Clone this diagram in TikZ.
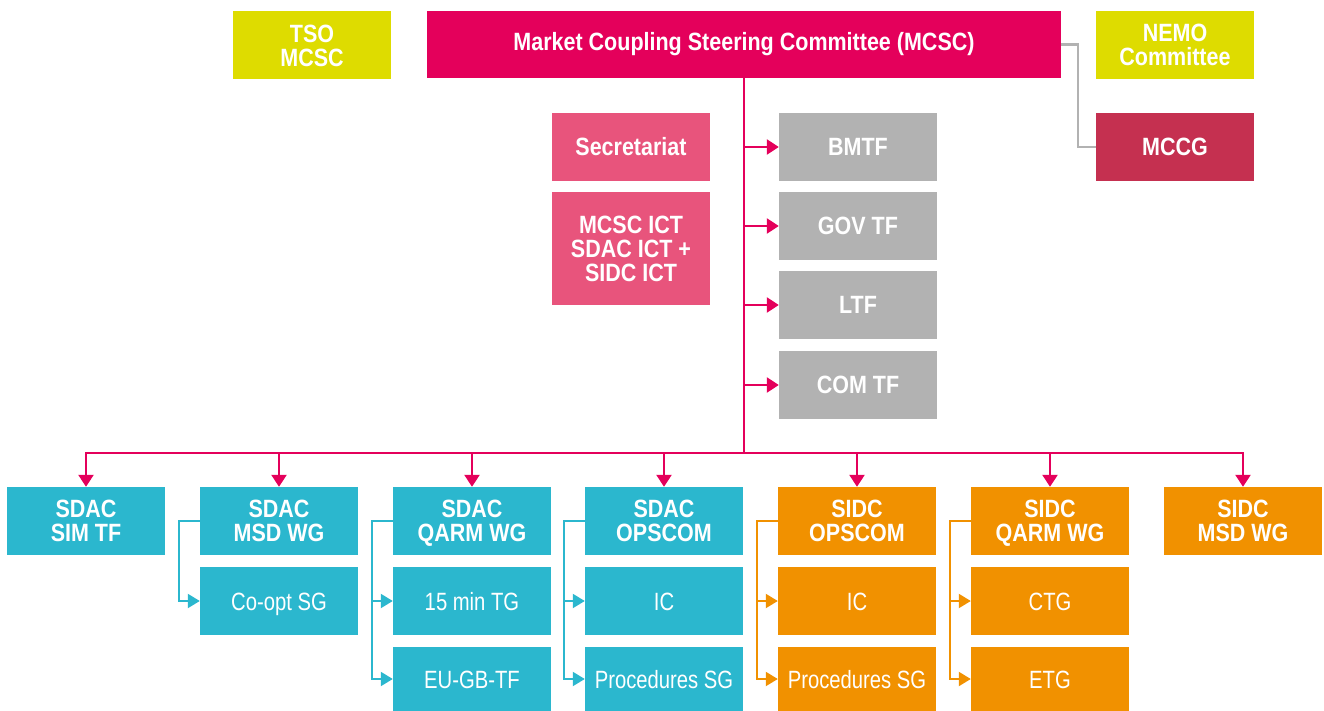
\documentclass[tikz,border=0pt]{standalone}
\usepackage{fontspec}
\setmainfont[FakeStretch=0.86]{Liberation Sans}
\newfontfamily\subfont[FakeStretch=0.81]{Liberation Sans}
\usepackage{tikz}
\usetikzlibrary{arrows.meta}
\definecolor{mcscred}{HTML}{E4005B}
\definecolor{secpink}{HTML}{E8547C}
\definecolor{mccgred}{HTML}{C53050}
\definecolor{lime}{HTML}{DEDC00}
\definecolor{tfgrey}{HTML}{B2B2B2}
\definecolor{sdaccyan}{HTML}{2BB7CE}
\definecolor{sidcorange}{HTML}{F19100}

\begin{document}
\begin{tikzpicture}[x=1pt,y=-1pt]%
  \tikzstyle{boxn}=[rectangle,inner sep=0,minimum width=158pt,minimum height=68pt,
    align=center,text=white,font=\fontsize{25}{24}\selectfont\bfseries]
  \tikzstyle{subn}=[boxn,text height=18pt,text depth=0pt,font=\subfont\fontsize{25}{24}\selectfont]
  \tikzstyle{lown}=[subn,minimum height=64pt]
  \tikzstyle{trunk}=[draw=mcscred,line width=2.5pt]
  \tikzstyle{tip}=[-{Triangle[length=12pt,width=15pt]}]
  \tikzstyle{cyanline}=[draw=sdaccyan,line width=2pt,-{Triangle[length=12pt,width=14pt]}]
  \tikzstyle{orangeline}=[draw=sidcorange,line width=2pt,-{Triangle[length=12pt,width=14pt]}]
  \useasboundingbox (0,0) rectangle (1324,711);
  \node(mcsc)[boxn,fill=mcscred,minimum width=634pt,minimum height=67pt] at (744,44.5)
    {Market Coupling Steering Committee (MCSC)};
  \node(tso)[boxn,fill=lime] at (312,45.5) {TSO\\MCSC};
  \node(nemo)[boxn,fill=lime] at (1175,45) {NEMO\\Committee};
  \node(mccg)[boxn,fill=mccgred] at (1175,147) {MCCG};
  \node(secr)[boxn,fill=secpink] at (631,147) {Secretariat};
  \node(ict)[boxn,fill=secpink,minimum height=113pt] at (631,248.5)
    {MCSC ICT\\SDAC ICT +\\SIDC ICT};
  \node(bmtf)[boxn,fill=tfgrey] at (858,147) {BMTF};
  \node(govtf)[boxn,fill=tfgrey] at (858,226) {GOV TF};
  \node(ltf)[boxn,fill=tfgrey] at (858,305) {LTF};
  \node(comtf)[boxn,fill=tfgrey] at (858,385) {COM TF};
  \node(sdacsim)[boxn,fill=sdaccyan] at (86,521) {SDAC\\SIM TF};
  \node(sdacmsd)[boxn,fill=sdaccyan] at (279,521) {SDAC\\MSD WG};
  \node(sdacqarm)[boxn,fill=sdaccyan] at (472,521) {SDAC\\\smash{Q}ARM WG};
  \node(sdacops)[boxn,fill=sdaccyan] at (664,521) {SDAC\\OPSCOM};
  \node(sidcops)[boxn,fill=sidcorange] at (857,521) {SIDC\\OPSCOM};
  \node(sidcqarm)[boxn,fill=sidcorange] at (1050,521) {SIDC\\\smash{Q}ARM WG};
  \node(sidcmsd)[boxn,fill=sidcorange] at (1243,521) {SIDC\\MSD WG};
  \node(coopt)[subn,fill=sdaccyan] at (279,601) {Co-opt SG};
  \node(tg15)[subn,fill=sdaccyan] at (472,601) {15 min TG};
  \node(eugb)[lown,fill=sdaccyan] at (472,679) {EU-GB-TF};
  \node(sdacic)[subn,fill=sdaccyan] at (664,601) {IC};
  \node(sdacproc)[lown,fill=sdaccyan] at (664,679) {Procedures SG};
  \node(sidcic)[subn,fill=sidcorange] at (857,601) {IC};
  \node(sidcproc)[lown,fill=sidcorange] at (857,679) {Procedures SG};
  \node(ctg)[subn,fill=sidcorange] at (1050,601) {CTG};
  \node(etg)[lown,fill=sidcorange] at (1050,679) {ETG};
  \coordinate(busl) at (86,453);
  \coordinate(busr) at (1243,453);
  \draw[trunk] (mcsc.south) -- (mcsc.south |- busl);
  \draw[trunk,line cap=rect] (busl) -- (busr);
  \foreach \n in {bmtf,govtf,ltf,comtf}
    \draw[trunk,tip] (mcsc.south |- \n.west) -- (\n.west);
  \foreach \n in {sdacsim,sdacmsd,sdacqarm,sdacops,sidcops,sidcqarm,sidcmsd}
    \draw[trunk,tip] (\n.north |- busl) -- (\n.north);
  \draw[draw=tfgrey,line width=2.5pt] (mcsc.east) -- ++(17,0) |- (mccg.west);
  \draw[cyanline] (sdacmsd.west) -- ++(-21,0) |- (coopt.west);
  \draw[cyanline] (sdacqarm.west) -- ++(-21,0) |- (tg15.west);
  \draw[cyanline] (sdacqarm.west) -- ++(-21,0) |- (eugb.west);
  \draw[cyanline] (sdacops.west) -- ++(-21,0) |- (sdacic.west);
  \draw[cyanline] (sdacops.west) -- ++(-21,0) |- (sdacproc.west);
  \draw[orangeline] (sidcops.west) -- ++(-21,0) |- (sidcic.west);
  \draw[orangeline] (sidcops.west) -- ++(-21,0) |- (sidcproc.west);
  \draw[orangeline] (sidcqarm.west) -- ++(-21,0) |- (ctg.west);
  \draw[orangeline] (sidcqarm.west) -- ++(-21,0) |- (etg.west);
\end{tikzpicture}
\end{document}
